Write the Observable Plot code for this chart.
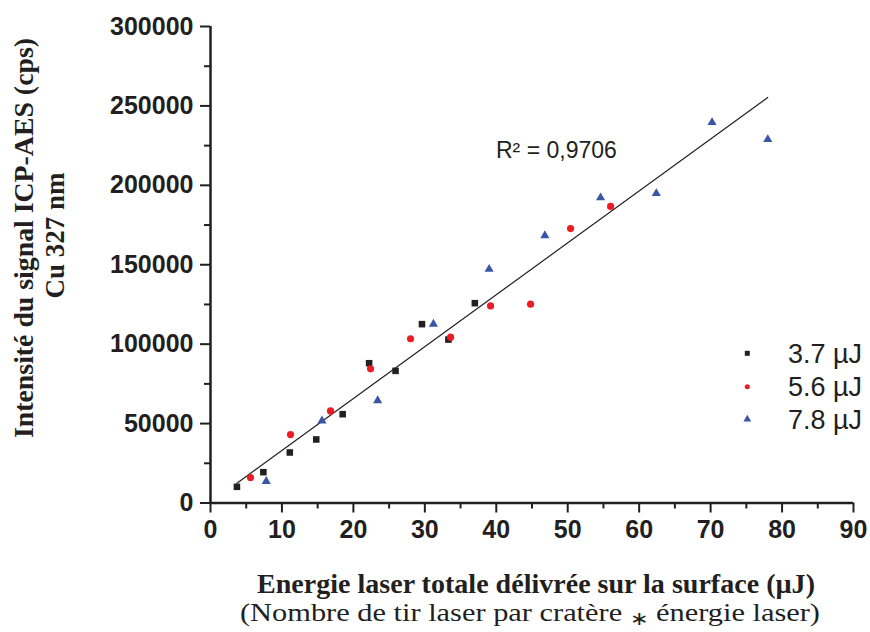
<!DOCTYPE html>
<html>
<head>
<meta charset="utf-8">
<script src="https://cdn.jsdelivr.net/npm/d3@7"></script>
<script src="https://cdn.jsdelivr.net/npm/@observablehq/plot@0.6"></script>
<style>
  html, body { margin: 0; padding: 0; background: #fff; }
  #chart svg { display: block; }
</style>
</head>
<body>
<div id="chart"></div>
<script>
// ---- data ----
const seriesLabels = ["3.7 µJ", "5.6 µJ", "7.8 µJ"];
const x37 = [3.7, 7.4, 11.1, 14.8, 18.5, 22.2, 25.9, 29.6, 33.3, 37.0];
const y37 = [10200, 19400, 31800, 40000, 55900, 88000, 83200, 112600, 102900, 125800];
const x56 = [5.6, 11.2, 16.8, 22.4, 28.0, 33.6, 39.2, 44.8, 50.4, 56.0];
const y56 = [16050, 43100, 58000, 84500, 103400, 104400, 124100, 125200, 172800, 186700];
const x78 = [7.8, 15.6, 23.4, 31.2, 39.0, 46.8, 54.6, 62.4, 70.2, 78.0];
const y78 = [13700, 51700, 64500, 112600, 147200, 168400, 192200, 194900, 239600, 228900];
const fitX = [3.7, 78.0];
const fitY = [12500, 255300];
const xTicks = [0, 10, 20, 30, 40, 50, 60, 70, 80, 90];
const xMinor = [5, 15, 25, 35, 45, 55, 65, 75, 85];
const yTicks = [0, 50000, 100000, 150000, 200000, 250000, 300000];
const yMinor = [25000, 75000, 125000, 175000, 225000, 275000];
const r2Label = "R² = 0,9706";
const yTitle = ["Intensité du signal ICP-AES (cps)", "Cu 327 nm"];
const xTitle = ["Energie laser totale délivrée sur la surface (µJ)", "(Nombre de tir laser par cratère ", "∗", " énergie laser)"];

const ink = "#231f20";
const colors = [ink, "#ed1c24", "#3a55a4"];
const symbols = ["square", "circle", "triangle"];

const toRows = (xs, ys) => xs.map((x, i) => ({x, y: ys[i]}));
const s37 = toRows(x37, y37), s56 = toRows(x56, y56), s78 = toRows(x78, y78);
const fit = toRows(fitX, fitY);

const W = 870, H = 632;
const tickFont = {fontSize: 25, fontWeight: "bold"};

const plot = Plot.plot({
  width: W, height: H,
  marginLeft: 210, marginRight: 17, marginTop: 26, marginBottom: 129.5,
  style: {fontFamily: "'Liberation Sans', Arial, sans-serif", color: ink, background: "#fff"},
  x: {domain: [0, 90]},
  y: {domain: [0, 300000]},
  marks: [
    Plot.line(fit, {x: "x", y: "y", stroke: ink, strokeWidth: 1.2}),
    Plot.dot(s37, {x: "x", y: "y", symbol: symbols[0], r: 3.7, fill: colors[0]}),
    Plot.dot(s56, {x: "x", y: "y", symbol: symbols[1], r: 3.6, fill: colors[1]}),
    Plot.dot(s78, {x: "x", y: "y", symbol: symbols[2], r: 3.4, fill: colors[2]}),
    Plot.axisX({ticks: xTicks, label: null, tickSize: 10, tickPadding: 7, strokeWidth: 2, tickFormat: d => String(d), ...tickFont, fill: ink, stroke: ink}),
    Plot.axisX({ticks: xMinor, label: null, tickSize: 6, text: null, strokeWidth: 2, stroke: ink}),
    Plot.axisY({ticks: yTicks, label: null, tickSize: 10, tickPadding: 7, strokeWidth: 2, tickFormat: d => String(d), ...tickFont, fill: ink, stroke: ink}),
    Plot.axisY({ticks: yMinor, label: null, tickSize: 6, text: null, strokeWidth: 2, stroke: ink}),
    Plot.ruleY([0], {stroke: ink, strokeWidth: 2.5}),
    Plot.ruleX([0], {stroke: ink, strokeWidth: 2.5})
  ]
});

document.getElementById("chart").appendChild(plot);
const svg = d3.select(plot);

// R² annotation
svg.append("text")
  .attr("x", 496).attr("y", 157.5)
  .attr("text-anchor", "start")
  .attr("font-family", "'Liberation Sans', Arial, sans-serif")
  .attr("font-size", 23).attr("fill", ink)
  .text(r2Label);

// legend
const legY = [353.3, 386.7, 419.3];
const legSym = [d3.symbolSquare, d3.symbolCircle, d3.symbolTriangle];
const legSize = [25, 20, 26];
seriesLabels.forEach((lab, i) => {
  svg.append("path")
    .attr("transform", `translate(747.3,${legY[i]})`)
    .attr("d", d3.symbol(legSym[i], legSize[i])())
    .attr("fill", colors[i]);
  svg.append("text")
    .attr("x", 788).attr("y", legY[i] + 9.5)
    .attr("text-anchor", "start")
    .attr("font-family", "'Liberation Sans', Arial, sans-serif")
    .attr("font-size", 27).attr("fill", ink)
    .text(lab);
});

// y title (two rotated lines)
svg.append("text")
  .attr("transform", "translate(32.5,238) rotate(-90)")
  .attr("text-anchor", "middle")
  .attr("font-family", "'Liberation Serif', 'Times New Roman', serif")
  .attr("font-weight", "bold").attr("font-size", 28).attr("fill", ink)
  .attr("textLength", 400).attr("lengthAdjust", "spacingAndGlyphs")
  .text(yTitle[0]);
svg.append("text")
  .attr("transform", "translate(64,235.5) rotate(-90)")
  .attr("text-anchor", "middle")
  .attr("font-family", "'Liberation Serif', 'Times New Roman', serif")
  .attr("font-weight", "bold").attr("font-size", 27).attr("fill", ink)
  .text(yTitle[1]);

// x title (two lines)
svg.append("text")
  .attr("x", 536).attr("y", 592.5)
  .attr("text-anchor", "middle")
  .attr("font-family", "'Liberation Serif', 'Times New Roman', serif")
  .attr("font-weight", "bold").attr("font-size", 27.5).attr("fill", ink)
  .attr("textLength", 558).attr("lengthAdjust", "spacingAndGlyphs")
  .text(xTitle[0]);
const t2 = svg.append("text")
  .attr("x", 530).attr("y", 621)
  .attr("text-anchor", "middle")
  .attr("font-family", "'Liberation Serif', 'Times New Roman', serif")
  .attr("font-size", 26).attr("fill", ink)
  .attr("textLength", 580).attr("lengthAdjust", "spacingAndGlyphs");
t2.append("tspan").text(xTitle[1]);
t2.append("tspan").attr("font-size", 19).attr("dy", 4).text(xTitle[2]);
t2.append("tspan").attr("dy", -4).text(xTitle[3]);
</script>
</body>
</html>
